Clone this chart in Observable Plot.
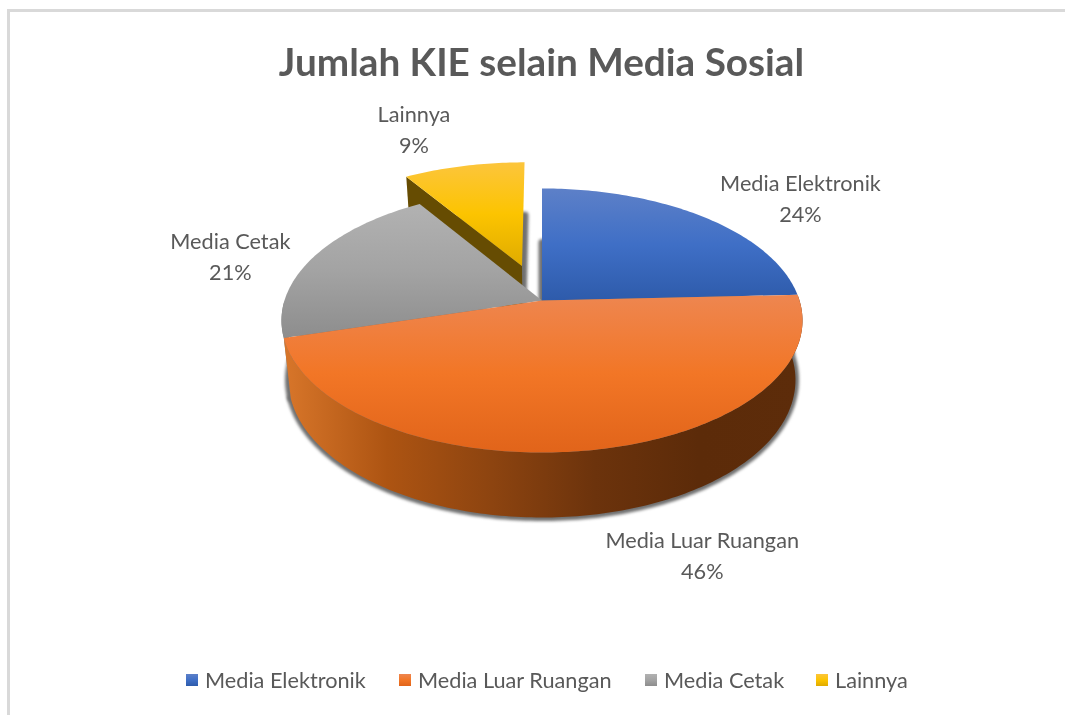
<!DOCTYPE html>
<html><head><meta charset="utf-8">
<script src="https://cdn.jsdelivr.net/npm/d3@7"></script>
<script src="https://cdn.jsdelivr.net/npm/@observablehq/plot@0.6"></script>
<style>
html,body{margin:0;padding:0;background:#fff;overflow:hidden}
#page{position:relative;width:1065px;height:715px;font-family:Lato,sans-serif;color:#595959}
#frame{position:absolute;left:7px;top:9px;width:1058px;height:706px;border-left:3px solid #d9d9d9;border-top:3px solid #d9d9d9;box-sizing:border-box}
#title{position:absolute;left:0;top:36px;width:1083px;text-align:center;font-size:38.7px;font-weight:700;line-height:50px;filter:blur(.4px)}
#chart{position:absolute;left:0;top:85px}
#legend{position:absolute;left:186px;top:665px;height:30px;display:flex;align-items:center;font-size:21.7px;filter:blur(.3px);white-space:nowrap}
#legend span.s{display:inline-block;width:12px;height:12px;margin-right:7px}
#legend span.i{display:flex;align-items:center;position:absolute;top:0;height:30px}
</style></head><body>
<div id="page"><div id="frame"></div>
<div id="title">Jumlah KIE selain Media Sosial</div>
<div id="chart"></div><div id="legend"></div></div>
<script>
const categories = ["Media Elektronik","Media Luar Ruangan","Media Cetak","Lainnya"];
const values = [24.3,46.2,20.5,9];
const explode = [0,0,0,0.29];
const topStops = [["#5d80c8","#3f6fc6","#2e5bab"],["#ee8650","#f27626","#e1641a"],["#b2b2b2","#a3a3a3","#8d8d8d"],["#fcc53c","#fcc400","#dfab00"]];
const sideStops = ["#d8762a","#ad5412","#8d4410","#6c330c","#5c2b09","#5d2c0a"];
const labelOffsets = [[98,-20],[111,103],[-83,-3],[-50,-38]];
const legendX = [186,399,645,816];

const W=1065,T=85,H=565;
// perspective disc
const cx=541.5,cy=300,R=257.5,k=129,c=-0.1515,bottomScale=0.973,drop=58.6;
const project=(u,v,level)=>{const w=1+c*v,s=level?bottomScale:1,d=level?drop:0;return [cx+R*u*s/w,cy+(k*v*s+d)/w];};
const total=d3.sum(values);
let acc=0;
const slices=categories.map((name,i)=>{const a0=acc/total*2*Math.PI;acc+=values[i];const a1=acc/total*2*Math.PI;const m=(a0+a1)/2;
  return {name,i,a0,a1,m,e:explode[i],ox:Math.sin(m)*explode[i],oy:-Math.cos(m)*explode[i]};});
const arcPts=(s,a0,a1,level)=>{const n=Math.max(2,Math.ceil((a1-a0)/(Math.PI/180)));
  return d3.range(n+1).map(j=>{const a=a0+(a1-a0)*j/n;return project(Math.sin(a)+s.ox,-Math.cos(a)+s.oy,level);});};
const face=(s,level)=>[project(s.ox,s.oy,level),...arcPts(s,s.a0,s.a1,level),project(s.ox,s.oy,level)];
const band=(s,a0,a1)=>[...arcPts(s,a0,a1,0),...arcPts(s,a0,a1,1).reverse()];
const wall=(s)=>{const p0=project(s.ox,s.oy,0),p1=project(s.ox,s.oy,1),q0=project(Math.sin(s.a0)+s.ox,-Math.cos(s.a0)+s.oy,0),q1=project(Math.sin(s.a0)+s.ox,-Math.cos(s.a0)+s.oy,1);return [q0,p0,p1,q1];};
const poly=(pts,opts)=>Plot.line(pts,{x:d=>d[0],y:d=>d[1],curve:"linear",stroke:"none",...opts});

const defs=()=>{const d=d3.create("svg:defs");
  const grad=(id,stops,horizontal)=>{const g=d.append("linearGradient").attr("id",id).attr("x1",0).attr("y1",0).attr("x2",horizontal?1:0).attr("y2",horizontal?0:1);
    stops.forEach((c,j)=>g.append("stop").attr("offset",j/(stops.length-1)).attr("stop-color",c));};
  topStops.forEach((st,i)=>grad("top"+i,st,false));
  grad("sideO",sideStops,true);
  return d.node();};

const [blue,orange,gray,yellow]=slices;
const marks=[
  defs,
  ...slices.map(s=>poly(face(s,1),{fill:"#707070",stroke:"#707070",strokeWidth:7,imageFilter:"blur(1.8px)"})),
  poly(wall(yellow),{fill:"#664c02"}),
  poly(face(yellow,0),{fill:"url(#top3)"}),
  poly(band(gray,gray.a0,Math.PI*1.5),{fill:"#7c7c7c"}),
  poly(face(gray,0),{fill:"url(#top2)"}),
  poly(face(blue,0),{fill:"url(#top0)"}),
  poly(band(orange,orange.a0,orange.a1),{fill:"url(#sideO)"}),
  poly(face(orange,0),{fill:"url(#top1)"}),
  Plot.text(slices.map((s,i)=>{
      const [x,y]=project(Math.sin(s.m)*(1+s.e),-Math.cos(s.m)*(1+s.e),0);
      return {x:x+labelOffsets[i][0],y:y+labelOffsets[i][1],t:s.name+"\n"+Math.round(values[i])+"%"};
    }),{x:"x",y:"y",text:"t",fontSize:21.7,lineHeight:1.43,fill:"#595959",fontFamily:"Lato, sans-serif",textAnchor:"middle",imageFilter:"blur(.3px)"})
];
const chart=Plot.plot({width:W,height:H,margin:0,
  x:{domain:[0,W],range:[0,W],axis:null},
  y:{domain:[T,T+H],range:[0,H],axis:null},
  style:{background:"transparent",overflow:"visible"},
  marks});
document.getElementById("chart").append(chart);
const legend=d3.select("#legend");
categories.forEach((name,i)=>{
  const it=legend.append("span").attr("class","i").style("left",(legendX[i]-186)+"px");
  it.append("span").attr("class","s").style("background",`linear-gradient(${topStops[i].join(",")})`);
  it.append("span").text(name);
});
</script></body></html>
